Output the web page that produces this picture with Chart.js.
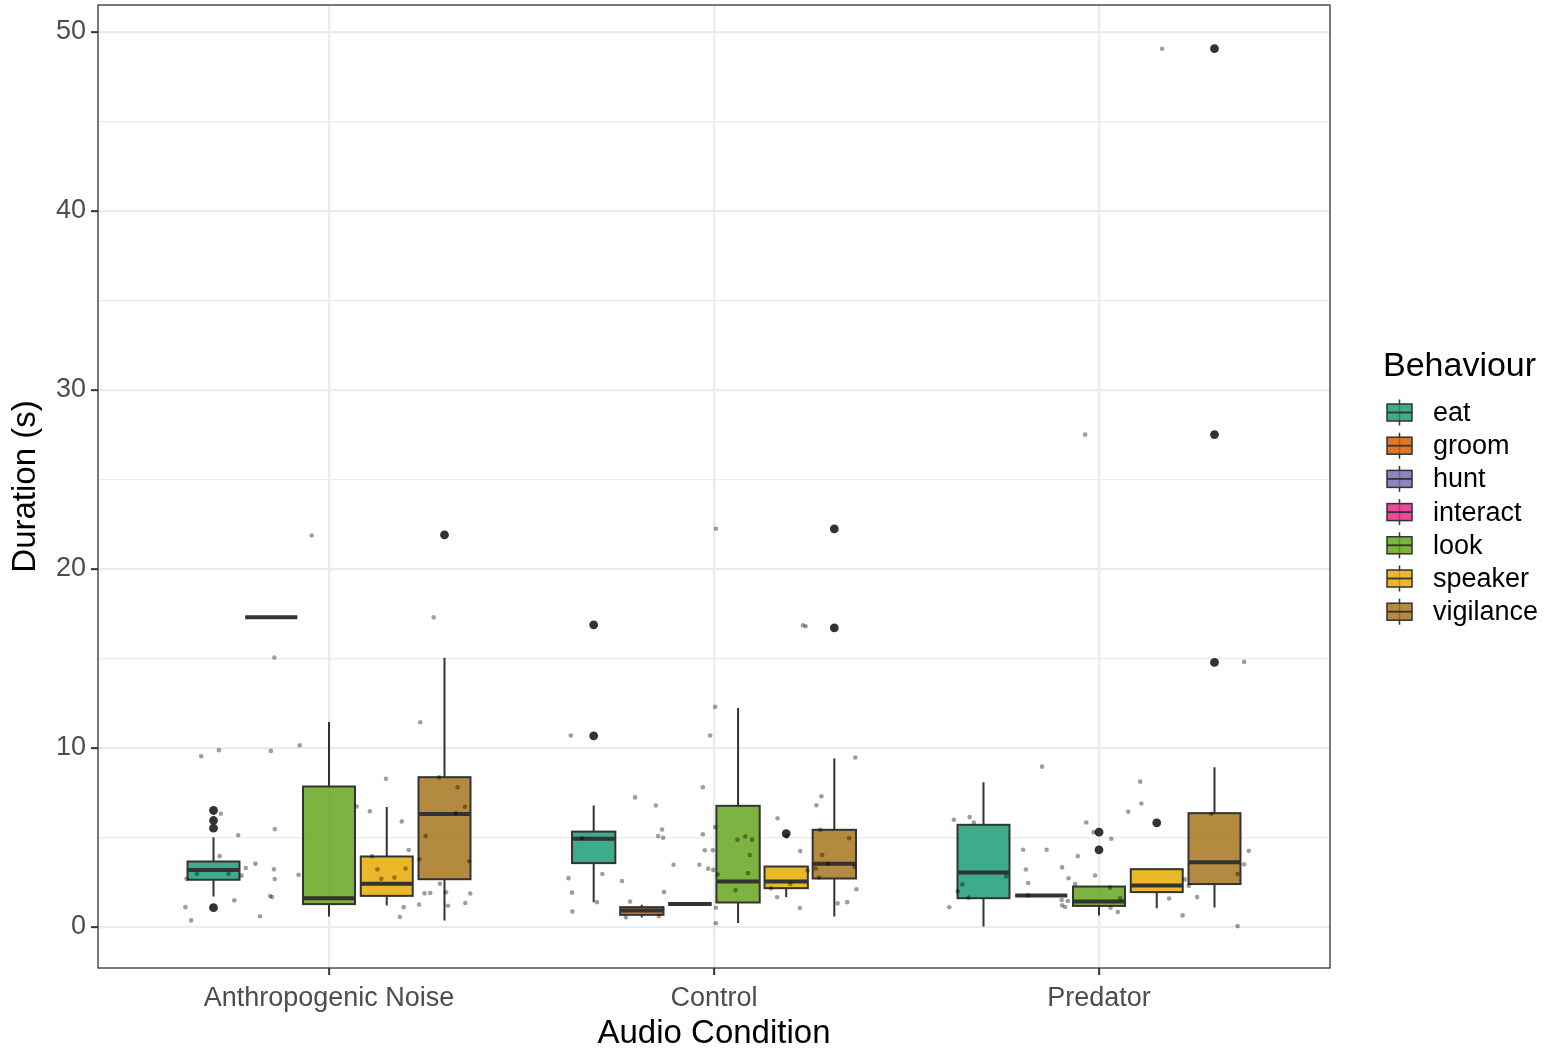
<!DOCTYPE html>
<html>
<head>
<meta charset="utf-8">
<script src="https://cdn.jsdelivr.net/npm/chart.js@4.4.0/dist/chart.umd.min.js"></script>
<style>
  html, body { margin: 0; padding: 0; background: #fff; }
</style>
</head>
<body>
<canvas id="behaviourChart" width="1553" height="1051"></canvas>
<script>
const conditions = ['Anthropogenic Noise', 'Control', 'Predator'];
const behaviours = ['eat', 'groom', 'hunt', 'interact', 'look', 'speaker', 'vigilance'];
const behaviourColours = ['#1B9E77', '#D95F02', '#7570B3', '#E7298A', '#66A61E', '#E6AB02', '#A6761D'];

// one entry per box (condition index, behaviour, five-number summary, outliers)
const boxCondition = [0, 0, 0, 0, 0, 1, 1, 1, 1, 1, 1, 2, 2, 2, 2, 2];
const boxBehaviour = ['eat', 'groom', 'look', 'speaker', 'vigilance',
                      'eat', 'groom', 'hunt', 'look', 'speaker', 'vigilance',
                      'eat', 'interact', 'look', 'speaker', 'vigilance'];
const boxLow    = [1.69, 17.3, 0.58, 1.19, 0.35, 1.38, 0.52, 1.27, 0.21, 1.66, 0.58, 0.02, 1.75, 0.63, 1.04, 1.08];
const boxQ1     = [2.63, 17.3, 1.27, 1.73, 2.66, 3.56, 0.67, 1.27, 1.36, 2.16, 2.70, 1.60, 1.75, 1.17, 1.94, 2.39];
const boxMedian = [3.18, 17.3, 1.60, 2.40, 6.30, 4.92, 0.91, 1.27, 2.53, 2.53, 3.52, 3.03, 1.75, 1.41, 2.31, 3.61];
const boxQ3     = [3.65, 17.3, 7.84, 3.93, 8.36, 5.32, 1.10, 1.27, 6.76, 3.37, 5.42, 5.70, 1.75, 2.25, 3.22, 6.35];
const boxHigh   = [5.01, 17.3, 11.45, 6.69, 15.03, 6.78, 1.23, 1.27, 12.22, 3.37, 9.40, 8.08, 1.75, 2.25, 3.22, 8.92];
const boxOutliers = [[6.50, 5.94, 5.51, 1.07], [], [], [], [21.9],
                     [10.67, 16.87], [], [], [], [5.21], [16.70, 22.23],
                     [], [], [5.29, 4.30], [5.81], [49.06, 27.5, 14.77]];

// raw observations (jittered), offset from the condition centre
const anJitterX = [-0.332, -0.286, -0.151, -0.076, -0.281, -0.236, -0.141, -0.284, -0.343, -0.261, -0.216, -0.191,
                   -0.143, -0.141, -0.227, -0.370, -0.079, -0.246, -0.153, -0.148, -0.373, -0.358, -0.179, -0.045,
                   -0.142, 0.272, 0.237, 0.148, 0.072, 0.106, 0.189, 0.207, 0.251, 0.286, 0.334, 0.353, 0.329,
                   0.112, 0.126, 0.136, 0.170, 0.199, 0.235, 0.364, 0.288, 0.248, 0.263, 0.304, 0.367, 0.354,
                   0.309, 0.234, 0.194, 0.184];
const anJitterY = [9.53, 9.87, 9.83, 10.14, 6.32, 5.12, 5.46, 3.95, 2.97, 2.97, 3.28, 3.53,
                   3.21, 2.67, 2.86, 2.69, 2.91, 1.48, 1.72, 1.66, 1.10, 0.36, 0.59, 21.86,
                   15.04, 17.29, 11.43, 8.27, 6.72, 6.46, 5.89, 4.29, 5.07, 8.35, 7.80, 6.71, 6.34,
                   3.95, 3.21, 2.69, 2.75, 3.26, 3.77, 3.66, 2.41, 1.87, 1.89, 1.93, 1.86, 1.33,
                   1.18, 1.24, 1.10, 0.55];
const ctlJitterX = [-0.372, -0.010, 0.003, -0.205, -0.151, -0.029, -0.135, -0.145, -0.132, -0.029, -0.343, -0.024,
                    -0.003, -0.105, -0.038, -0.015, -0.002, 0.003, -0.378, -0.290, -0.239, -0.369, -0.304, -0.218,
                    -0.130, -0.368, -0.229, -0.143, 0.005, 0.005, 0.005, 0.238, 0.231, 0.061, 0.081, 0.099,
                    0.093, 0.010, 0.088, 0.056, 0.165, 0.189, 0.224, 0.243, 0.198, 0.148, 0.164, 0.223,
                    0.279, 0.266, 0.276, 0.281, 0.264, 0.273, 0.296, 0.351, 0.367, 0.365, 0.370, 0.321, 0.346];
const ctlJitterY = [10.69, 10.69, 12.29, 7.23, 6.78, 7.80, 5.44, 5.07, 4.98, 5.17, 4.94, 4.28,
                    4.28, 3.47, 3.47, 3.25, 3.18, 5.57, 2.72, 2.95, 2.56, 1.91, 1.38, 1.41,
                    1.94, 0.86, 0.53, 0.59, 1.07, 0.20, 22.24, 16.79, 16.85, 4.87, 5.05, 4.87,
                    4.01, 2.92, 3.00, 2.05, 6.07, 5.04, 4.23, 3.15, 2.39, 2.15, 1.65, 1.05,
                    7.29, 6.79, 5.42, 4.01, 3.26, 2.76, 3.53, 4.95, 9.46, 3.36, 2.10, 1.31, 1.38];
const predJitterX = [-0.148, -0.377, -0.336, -0.325, -0.033, -0.014, -0.197, -0.136, -0.055, -0.190, -0.096, -0.079,
                     -0.241, -0.184, -0.355, -0.367, -0.339, -0.184, -0.062, -0.010, -0.097, -0.081, -0.096, -0.088,
                     -0.389, 0.107, 0.110, 0.076, 0.032, 0.029, 0.055, 0.030, 0.049, 0.182, 0.217, 0.223,
                     0.233, 0.255, 0.292, 0.389, 0.377, 0.360, 0.360, 0.164, -0.036, 0.377];
const predJitterY = [8.95, 5.98, 6.13, 5.83, 5.83, 5.29, 4.31, 4.31, 3.95, 3.20, 3.32, 2.71,
                     2.82, 2.45, 2.37, 1.98, 1.63, 1.76, 2.39, 2.87, 1.50, 1.44, 1.20, 1.11,
                     1.09, 8.11, 6.89, 6.43, 4.92, 2.19, 1.59, 1.07, 0.83, 1.58, 0.64, 2.65,
                     2.28, 1.66, 6.32, 4.25, 3.49, 2.95, 0.04, 49.06, 27.5, 14.8];

const yTicks = [0, 5, 10, 15, 20, 25, 30, 35, 40, 45, 50];

Chart.defaults.font.family = '"Liberation Sans", Arial, Helvetica, sans-serif';

function withAlpha(hex, a) {
    const n = parseInt(hex.slice(1), 16);
    return `rgba(${(n >> 16) & 255}, ${(n >> 8) & 255}, ${n & 255}, ${a})`;
}

// dodge position of every box inside its condition
const boxSlots = boxCondition.map((c, i) => {
    const same = boxCondition.filter(v => v === c).length;
    const idx = boxCondition.slice(0, i).filter(v => v === c).length;
    const slotWidth = 0.75 / same;
    return { centre: c + 1 - 0.375 + slotWidth * (idx + 0.5), half: slotWidth * 0.9 / 2 };
});

const outlierPoints = [];
boxOutliers.forEach((vals, i) => vals.forEach(v => outlierPoints.push({ x: boxSlots[i].centre, y: v })));

const jitterPoints = [];
[[anJitterX, anJitterY], [ctlJitterX, ctlJitterY], [predJitterX, predJitterY]].forEach(([xs, ys], c) => {
    xs.forEach((dx, k) => jitterPoints.push({ x: c + 1 + dx, y: ys[k] }));
});

const boxPlugin = {
    id: 'boxes',
    beforeDatasetsDraw(chart) {
        const { ctx, scales: { x, y } } = chart;
        ctx.save();
        boxSlots.forEach((slot, i) => {
            const colour = behaviourColours[behaviours.indexOf(boxBehaviour[i])];
            const cx = x.getPixelForValue(slot.centre);
            const x0 = x.getPixelForValue(slot.centre - slot.half);
            const x1 = x.getPixelForValue(slot.centre + slot.half);
            const yLo = y.getPixelForValue(boxLow[i]);
            const yQ1 = y.getPixelForValue(boxQ1[i]);
            const yMed = y.getPixelForValue(boxMedian[i]);
            const yQ3 = y.getPixelForValue(boxQ3[i]);
            const yHi = y.getPixelForValue(boxHigh[i]);
            ctx.strokeStyle = '#333333';
            ctx.lineWidth = 2;
            ctx.beginPath();
            ctx.moveTo(cx, yQ3); ctx.lineTo(cx, yHi);
            ctx.moveTo(cx, yQ1); ctx.lineTo(cx, yLo);
            ctx.stroke();
            ctx.fillStyle = withAlpha(colour, 0.85);
            ctx.fillRect(x0, yQ3, x1 - x0, yQ1 - yQ3);
            ctx.strokeRect(x0, yQ3, x1 - x0, yQ1 - yQ3);
            ctx.lineWidth = 4;
            ctx.beginPath();
            ctx.moveTo(x0, yMed); ctx.lineTo(x1, yMed);
            ctx.stroke();
        });
        ctx.restore();
    },
    afterDraw(chart) {
        const { ctx, chartArea: a } = chart;
        ctx.save();
        // panel border
        ctx.strokeStyle = '#333333';
        ctx.lineWidth = 1.3;
        ctx.strokeRect(a.left, a.top, a.right - a.left, a.bottom - a.top);
        // legend
        ctx.fillStyle = '#000';
        ctx.textBaseline = 'middle';
        ctx.textAlign = 'left';
        ctx.font = '34px "Liberation Sans", Arial, sans-serif';
        ctx.fillText('Behaviour', 1383, 367);
        ctx.font = '27px "Liberation Sans", Arial, sans-serif';
        behaviours.forEach((b, i) => {
            const cy = 412.5 + i * 33.2;
            ctx.strokeStyle = '#333333';
            ctx.lineWidth = 1.5;
            ctx.beginPath();
            ctx.moveTo(1399.5, cy - 13); ctx.lineTo(1399.5, cy + 13);
            ctx.stroke();
            ctx.fillStyle = withAlpha(behaviourColours[i], 0.85);
            ctx.fillRect(1387, cy - 8.5, 25, 17);
            ctx.strokeRect(1387, cy - 8.5, 25, 17);
            ctx.lineWidth = 1.8;
            ctx.beginPath();
            ctx.moveTo(1387, cy); ctx.lineTo(1412, cy);
            ctx.stroke();
            ctx.fillStyle = '#000';
            ctx.fillText(b, 1433, cy + 1);
        });
        ctx.restore();
    }
};

new Chart(document.getElementById('behaviourChart').getContext('2d'), {
    type: 'scatter',
    data: {
        datasets: [{
            label: 'observations',
            data: jitterPoints,
            pointRadius: 2.3,
            pointBorderWidth: 0,
            backgroundColor: 'rgba(0, 0, 0, 0.38)',
            order: 0
        }, {
            label: 'outliers',
            data: outlierPoints,
            pointRadius: 4.4,
            pointBorderWidth: 0,
            backgroundColor: '#333333',
            order: 1
        }]
    },
    options: {
        responsive: false,
        animation: false,
        layout: { padding: { left: 0, top: 5, right: 223, bottom: 0 } },
        scales: {
            x: {
                type: 'linear',
                min: 0.4,
                max: 3.6,
                afterBuildTicks: scale => { scale.ticks = conditions.map((c, i) => ({ value: i + 1 })); },
                afterFit: scale => { scale.height = 83; scale.paddingLeft = 0; scale.paddingRight = 0; },
                ticks: {
                    callback: v => conditions[v - 1],
                    color: '#4D4D4D',
                    font: { size: 27 },
                    padding: 7,
                    maxRotation: 0,
                    autoSkip: false
                },
                grid: { color: '#EBEBEB', lineWidth: 2.3, tickColor: '#333333', tickLength: 7, tickWidth: 2 },
                border: { display: false },
                title: {
                    display: true,
                    text: 'Audio Condition',
                    color: '#000',
                    font: { size: 33, lineHeight: 1 },
                    padding: { top: 0, bottom: 1 }
                }
            },
            y: {
                type: 'linear',
                min: -2.3,
                max: 51.5,
                afterBuildTicks: scale => { scale.ticks = yTicks.map(v => ({ value: v })); },
                afterFit: scale => { scale.width = 98; scale.paddingTop = 0; scale.paddingBottom = 0; },
                ticks: {
                    callback: v => (v % 10 === 0 ? v : ''),
                    color: '#4D4D4D',
                    font: { size: 27 },
                    padding: 5
                },
                grid: {
                    color: '#EBEBEB',
                    lineWidth: c => (c.tick && c.tick.value % 10 === 0 ? 2.3 : 1.2),
                    tickColor: c => (c.tick && c.tick.value % 10 === 0 ? '#333333' : 'rgba(0,0,0,0)'),
                    tickLength: 7,
                    tickWidth: 2
                },
                border: { display: false },
                title: {
                    display: true,
                    text: 'Duration (s)',
                    color: '#000',
                    font: { size: 33 },
                    padding: { top: 6, bottom: 0 }
                }
            }
        },
        plugins: {
            legend: { display: false },
            tooltip: { enabled: false }
        }
    },
    plugins: [boxPlugin]
});
</script>
</body>
</html>
